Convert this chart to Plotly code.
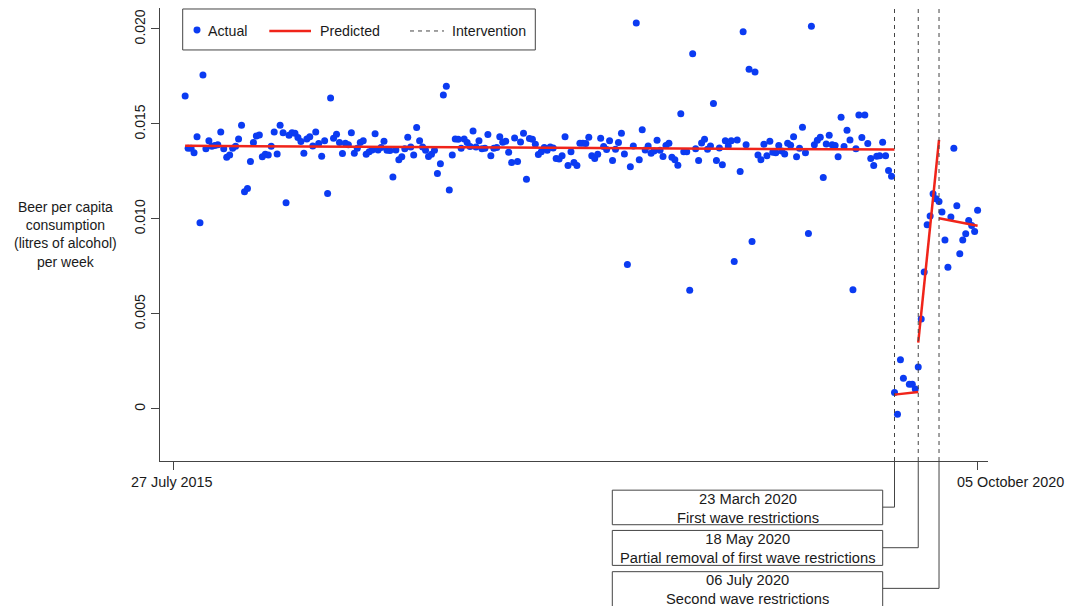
import pandas as pd
import plotly.graph_objects as go

# ---------------- data ----------------
pre_start = "2015-08-24"
pre_values = [
    0.01647, 0.01372, 0.01372, 0.01348, 0.01432, 0.00980, 0.01758, 0.01370, 0.01412,
    0.01383, 0.01386, 0.01390, 0.01458, 0.01370, 0.01325, 0.01337, 0.01372, 0.01383,
    0.01421, 0.01493, 0.01143, 0.01160, 0.01302, 0.01402, 0.01437, 0.01442, 0.01327,
    0.01341, 0.01336, 0.01383, 0.01458, 0.01342, 0.01493, 0.01454, 0.01085, 0.01441,
    0.01454, 0.01451, 0.01428, 0.01407, 0.01346, 0.01421, 0.01433, 0.01384, 0.01458,
    0.01397, 0.01330, 0.01412, 0.01134, 0.01637, 0.01425, 0.01446, 0.01402, 0.01344,
    0.01399, 0.01390, 0.01453, 0.01346,
    0.01372, 0.01402, 0.01412, 0.01341, 0.01353, 0.01363, 0.01449, 0.01363, 0.01376,
    0.01409, 0.01362, 0.01360, 0.01221, 0.01363, 0.01312, 0.01327, 0.01369, 0.01430,
    0.01378, 0.01336, 0.01481, 0.01411, 0.01378, 0.01362, 0.01328, 0.01341, 0.01362,
    0.01239, 0.01290, 0.01653, 0.01698, 0.01152, 0.01337, 0.01421, 0.01420, 0.01372,
    0.01421, 0.01402, 0.01381, 0.01463, 0.01378, 0.01411, 0.01370, 0.01372, 0.01444,
    0.01333, 0.01372, 0.01376, 0.01432, 0.01404, 0.01409, 0.01351, 0.01297, 0.01426,
    0.01302, 0.01405, 0.01451, 0.01209, 0.01423, 0.01420,
    0.01393, 0.01339, 0.01353, 0.01376, 0.01362, 0.01378, 0.01374, 0.01318, 0.01316,
    0.01333, 0.01433, 0.01281, 0.01354, 0.01297, 0.01281, 0.01399, 0.01399, 0.01397,
    0.01430, 0.01332, 0.01318, 0.01341, 0.01425, 0.01381, 0.01365, 0.01411, 0.01307,
    0.01367, 0.01402, 0.01451, 0.01342, 0.00760, 0.01274, 0.01384, 0.02031, 0.01312,
    0.01470, 0.01363, 0.01384, 0.01346, 0.01358, 0.01414, 0.01362, 0.01328, 0.01386,
    0.01399, 0.01325, 0.01312, 0.01283, 0.01554, 0.01354, 0.01354, 0.00624, 0.01870,
    0.01370, 0.01307, 0.01400, 0.01420, 0.01367, 0.01384,
    0.01607, 0.01307, 0.01374, 0.01285, 0.01412, 0.01384, 0.01412, 0.00776, 0.01416,
    0.01249, 0.01985, 0.01391, 0.01788, 0.00881, 0.01773, 0.01336, 0.01312, 0.01393,
    0.01332, 0.01409, 0.01351, 0.01349, 0.01386, 0.01358, 0.01342, 0.01399, 0.01388,
    0.01433, 0.01327, 0.01372, 0.01483, 0.01348, 0.00923, 0.02014, 0.01391, 0.01414,
    0.01430, 0.01218, 0.01395, 0.01441, 0.01390, 0.01386, 0.01327, 0.01535, 0.01381,
    0.01467, 0.01416, 0.00627, 0.01369, 0.01547, 0.01428, 0.01547, 0.01397, 0.01318,
    0.01281, 0.01330, 0.01332, 0.01404, 0.01332, 0.01255, 0.01225,
]
post_start = "2020-03-23"
post_values = [
    0.00086, -0.00028, 0.00258, 0.00161, None, 0.00129, 0.00129, 0.00105, 0.00221,
    0.00473, 0.00720, 0.00969, 0.01015, 0.01132, 0.01106, 0.01092,
    0.01036, 0.00889, 0.00745, 0.01010, 0.01372, 0.01069, 0.00817, 0.00889, 0.00922,
    0.00992, 0.00965, 0.00934, 0.01046,
]

pred_start_dates = ["2015-08-24", "2020-03-23", "2020-05-18", "2020-07-06"]
pred_end_dates = ["2020-03-23", "2020-05-18", "2020-07-06", "2020-10-05"]
pred_start_vals = [0.01385, 0.00075, 0.00349, 0.01004]
pred_end_vals = [0.01365, 0.00089, 0.01416, 0.00964]

intervention_dates = ["2020-03-23", "2020-05-18", "2020-07-06"]
intervention_labels = [
    "23 March 2020<br>First wave restrictions",
    "18 May 2020<br>Partial removal of first wave restrictions",
    "06 July 2020<br>Second wave restrictions",
]

y_tickvals = [0, 0.005, 0.010, 0.015, 0.020]
y_ticktext = ["0", "0.005", "0.010", "0.015", "0.020"]
x_tickvals = ["2015-07-27", "2020-10-05"]
x_ticktext = ["27 July 2015", "05 October 2020"]

# ---------------- layout helpers ----------------
W, H = 1068, 606
PL, PR, PT, PB = 160, 988, 8, 461.5
FONT = "Liberation Sans, Arial, Helvetica, sans-serif"
TXT = "#1a1a1a"
AX = "#444444"
BLUE = "#0b3bf2"
RED = "#f0241a"

anchor = pd.Timestamp("2020-03-23")
anchor_px = 894.5
ppd = 0.4240  # pixels per day


def px_to_date(px):
    return anchor + pd.Timedelta(days=(px - anchor_px) / ppd)


def px_x(px):
    return (px - PL) / (PR - PL)


def px_y(py):
    return (PB - py) / (PB - PT)


pre_dates = pd.date_range(pre_start, periods=len(pre_values), freq="7D")
post_dates = pd.date_range(post_start, periods=len(post_values), freq="7D")

fig = go.Figure()

fig.add_trace(go.Scatter(
    x=list(pre_dates) + list(post_dates),
    y=pre_values + post_values,
    mode="markers",
    marker=dict(color=BLUE, size=7, line=dict(width=0)),
    name="Actual", showlegend=False, cliponaxis=False,
))

px_, py_ = [], []
for a, b, va, vb in zip(pred_start_dates, pred_end_dates, pred_start_vals, pred_end_vals):
    px_ += [pd.Timestamp(a), pd.Timestamp(b), None]
    py_ += [va, vb, None]
fig.add_trace(go.Scatter(
    x=px_, y=py_, mode="lines", line=dict(color=RED, width=2.5),
    name="Predicted", showlegend=False,
))

shapes = []
annotations = []

# intervention lines, connectors and boxes
conn_y = [507.7, 548.3, 589.0]
box_y = [(490.7, 525.3), (531.0, 566.0), (572.3, 607.5)]
text_y = [508.8, 549.2, 590.0]
box_x0, box_x1 = 612.3, 882.7
for d, cy, (by0, by1), ty, lab in zip(intervention_dates, conn_y, box_y, text_y, intervention_labels):
    shapes.append(dict(type="line", xref="x", yref="paper", x0=d, x1=d, y0=0, y1=1,
                       line=dict(color=AX, width=1, dash="4px,4px")))
    shapes.append(dict(type="line", xref="x", yref="paper", x0=d, x1=d, y0=0, y1=px_y(cy),
                       line=dict(color=AX, width=1)))
    shapes.append(dict(type="line", xref="x", yref="paper", x0=d, x1=px_to_date(box_x1),
                       y0=px_y(cy), y1=px_y(cy), line=dict(color=AX, width=1)))
    shapes.append(dict(type="rect", xref="paper", yref="paper",
                       x0=px_x(box_x0), x1=px_x(box_x1), y0=px_y(by1), y1=px_y(by0),
                       line=dict(color=AX, width=1), fillcolor="rgba(0,0,0,0)"))
    annotations.append(dict(xref="paper", yref="paper", x=px_x((box_x0 + box_x1) / 2),
                            y=px_y(ty), text=lab, showarrow=False,
                            xanchor="center", yanchor="middle", align="center",
                            font=dict(family=FONT, size=14.7, color=TXT)))

# manual legend
shapes.append(dict(type="rect", xref="paper", yref="paper",
                   x0=px_x(182.7), x1=px_x(535.3), y0=px_y(50), y1=px_y(9),
                   line=dict(color=AX, width=1), fillcolor="white"))
shapes.append(dict(type="circle", xref="paper", yref="paper",
                   x0=px_x(197 - 3.5), x1=px_x(197 + 3.5), y0=px_y(30 + 3.5), y1=px_y(30 - 3.5),
                   line=dict(width=0), fillcolor=BLUE))
shapes.append(dict(type="line", xref="paper", yref="paper",
                   x0=px_x(269.3), x1=px_x(311), y0=px_y(31), y1=px_y(31),
                   line=dict(color=RED, width=2.5)))
shapes.append(dict(type="line", xref="paper", yref="paper",
                   x0=px_x(410), x1=px_x(444), y0=px_y(31), y1=px_y(31),
                   line=dict(color=AX, width=1, dash="4px,4px")))
for txt, x0 in [("Actual", 206), ("Predicted", 317.5), ("Intervention", 450)]:
    annotations.append(dict(xref="paper", yref="paper", x=px_x(x0), y=px_y(31), text=txt,
                            showarrow=False, xanchor="left", yanchor="middle",
                            font=dict(family=FONT, size=14.2, color=TXT)))

# y-axis title
annotations.append(dict(xref="paper", yref="paper", x=px_x(65), y=px_y(235),
                        text="Beer per capita<br>consumption<br>(litres of alcohol)<br>per week",
                        showarrow=False, xanchor="center", yanchor="middle", align="center",
                        font=dict(family=FONT, size=14, color=TXT)))

# x tick labels
for txt, cx in zip(x_ticktext, [172, 1011]):
    annotations.append(dict(xref="paper", yref="paper", x=px_x(cx), y=px_y(483),
                            text=txt, showarrow=False, xanchor="center", yanchor="middle",
                            font=dict(family=FONT, size=14.4, color=TXT)))

y_lo = (PB - 409.3) / -19.02 / 1000
y_hi = 0.020 + (29 - PT) / 19.02 / 1000

fig.update_layout(
    width=W, height=H,
    margin=dict(l=PL, r=W - PR, t=PT, b=H - PB),
    paper_bgcolor="white", plot_bgcolor="white",
    font=dict(family=FONT, size=14, color=TXT),
    showlegend=False,
    shapes=shapes, annotations=annotations,
    xaxis=dict(type="date", range=[px_to_date(PL), px_to_date(PR)],
               showgrid=False, zeroline=False, showline=True, linecolor=AX, linewidth=1,
               tickvals=x_tickvals, ticktext=["", ""], showticklabels=False,
               ticks="outside", ticklen=8, tickcolor=AX, tickwidth=1),
    yaxis=dict(range=[y_lo, y_hi], showgrid=False, zeroline=False, showline=True,
               linecolor=AX, linewidth=1,
               tickvals=y_tickvals, ticktext=y_ticktext, tickangle=-90,
               ticks="outside", ticklen=8, tickcolor=AX, tickwidth=1,
               tickfont=dict(family=FONT, size=14, color=TXT)),
)

fig.write_html(
    "out.html",
    config={"displayModeBar": False},
    post_script="document.body.style.margin='0';document.body.style.overflow='hidden';",
)
